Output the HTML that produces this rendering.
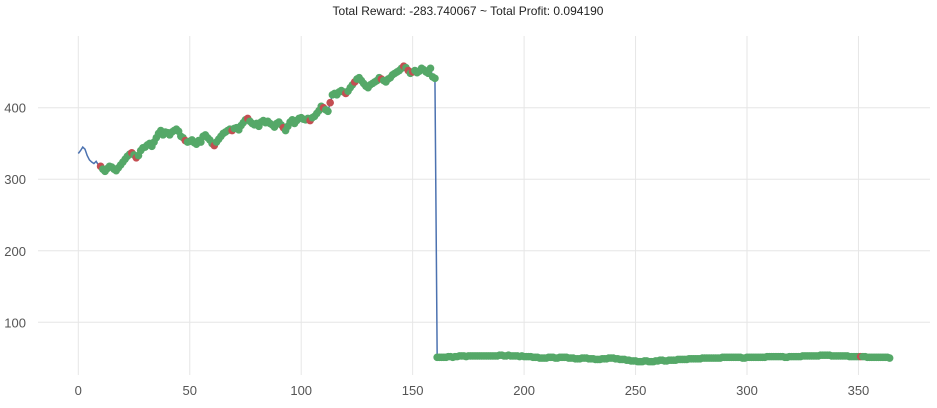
<!DOCTYPE html>
<html><head><meta charset="utf-8"><style>
body{margin:0;background:#fff;}
svg text{font-family:"Liberation Sans",sans-serif;}
</style></head><body>
<svg id="chart" width="937" height="403" xmlns="http://www.w3.org/2000/svg">
<text x="468" y="15" text-anchor="middle" font-size="12" fill="#222">Total Reward: -283.740067 ~ Total Profit: 0.094190</text>
<g id="grid"></g><g id="line"></g><g id="marks"></g><g id="ticks"></g>
</svg>
<script>
const prices=[336,340,345,342,333,327,324,322,325,320,
318,314,311,315,318,317,314,312,316,320,
324,328,332,335,337,334,330,333,340,344,
345,348,350,346,352,358,364,368,362,366,
365,362,366,368,370,367,360,358,354,352,
353,355,351,349,354,352,360,362,358,355,
350,347,352,356,360,364,366,368,370,368,
371,372,369,375,379,383,385,381,378,376,
378,374,380,382,379,381,378,376,373,378,
380,376,372,368,374,380,383,378,382,385,
386,384,383,385,382,386,388,392,396,402,
400,397,395,407,418,420,418,422,424,422,
420,423,428,432,436,440,442,438,434,430,
428,432,434,436,438,442,440,438,436,440,
442,446,448,450,452,455,458,456,452,448,
450,452,449,451,455,453,450,448,455,
443,441,51,51,51,
51,51,52,52,51,52,52,53,53,53,52,53,53,53,53,53,53,53,53,53,
53,53,53,53,53,54,54,53,53,54,53,53,53,53,52,53,52,52,52,52,
51,51,51,50,50,50,50,51,51,51,50,50,51,51,51,51,50,50,50,49,
49,49,50,50,50,49,49,49,48,48,48,49,49,49,50,50,50,49,49,48,
48,48,47,47,46,46,46,45,45,45,46,46,45,45,45,46,46,47,47,46,
46,47,47,47,47,48,48,48,48,48,49,49,49,49,49,49,50,50,50,50,
50,50,50,50,50,51,51,51,51,51,51,51,51,51,50,50,51,51,51,51,
51,51,51,51,51,52,52,52,52,52,52,52,52,51,51,52,52,52,52,52,
52,53,53,53,53,53,53,53,53,54,54,54,54,54,53,53,53,53,53,53,
53,53,52,52,52,52,52,52,52,52,51,51,51,51,51,51,51,51,51,51,50];
const signalStart=10;
const shortIdx=[10,24,26,48,61,69,76,92,104,110,113,120,124,136,146,148,150,351];
const xTicks=[0,50,100,150,200,250,300,350];
const yTicks=[100,200,300,400];
const X=i=>78.3+i*2.229;
const Y=v=>107.7+(400-v)*0.7153;
const NS="http://www.w3.org/2000/svg";
function mk(t,a,p){const e=document.createElementNS(NS,t);for(const k in a)e.setAttribute(k,a[k]);p.appendChild(e);return e;}
const grid=document.getElementById('grid'),ticks=document.getElementById('ticks');
xTicks.forEach(t=>{
const l=mk('line',{x1:X(t),x2:X(t),y1:36,y2:375,stroke:'#e6e6e6','stroke-width':1},grid);


const tx=mk('text',{x:X(t),y:395,'text-anchor':'middle','font-size':13,fill:'#555'},ticks);tx.textContent=t;


});
yTicks.forEach(t=>{
const l=mk('line',{x1:38,x2:930,y1:Y(t),y2:Y(t),stroke:'#e6e6e6','stroke-width':1},grid);


const tx=mk('text',{x:26,y:Y(t)+5,'text-anchor':'end','font-size':13,fill:'#555'},ticks);tx.textContent=t;


});
const pl=mk('polyline',{points:prices.map((v,i)=>X(i)+','+Y(v)).join(' '),fill:'none',stroke:'#4c72b0','stroke-width':1.5},document.getElementById('line'));


const marks=document.getElementById('marks');
prices.forEach((v,i)=>{
if(i<signalStart)return;
const red=shortIdx.includes(i);
const c=mk('circle',{cx:X(i),cy:Y(v),r:3.8,fill:red?'#c44e52':'#55a868'},marks);


});
</script>
</body></html>
